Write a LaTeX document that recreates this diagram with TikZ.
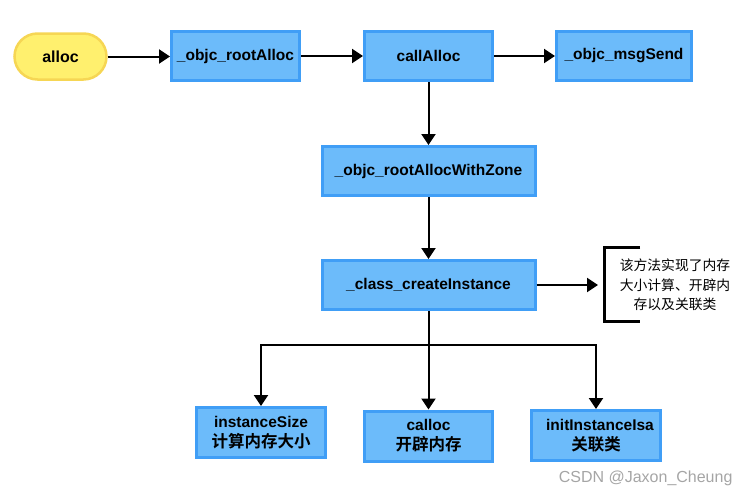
\documentclass[tikz,border=0pt]{standalone}
\usepackage{fontspec}
\setmainfont{Liberation Sans}
\newfontfamily\cjk{Noto Sans CJK SC}[BoldFont={Noto Sans CJK SC Bold}]
\usetikzlibrary{arrows.meta}
\definecolor{boxfill}{RGB}{108,187,250}
\definecolor{boxline}{RGB}{64,158,246}
\definecolor{yfill}{RGB}{255,240,110}
\definecolor{yline}{RGB}{246,214,84}
\definecolor{wm}{RGB}{165,165,165}
\tikzset{
  box/.style={draw=boxline, fill=boxfill, line width=3pt, inner sep=0pt,
    align=center, font=\fontsize{15.5}{19}\selectfont\bfseries},
  startbox/.style={draw=yline, fill=yfill, line width=2.5pt, rounded corners=23pt,
    inner sep=0pt, minimum width=92pt, minimum height=46pt,
    font=\fontsize{16}{19}\selectfont\bfseries},
  arr/.style={line width=2pt, -{Triangle[length=11pt,width=14pt]}},
  ln/.style={line width=2pt},
  zh/.style={font=\cjk\bfseries\fontsize{16.5}{19}\selectfont},
}
\newcommand\zhb[1]{{\cjk\bfseries\fontsize{16.5}{19}\selectfont #1}}
\begin{document}
\begin{tikzpicture}[x=1pt,y=-1pt]
\useasboundingbox (0,0) rectangle (751,498);
\node[startbox] (alloc) at (60.5,56.5) {alloc};
\node[box, minimum width=128pt, minimum height=49pt] (root) at (235.5,56) {\_objc\_rootAlloc};
\node[box, minimum width=128pt, minimum height=49pt] (call) at (428.5,56) {callAlloc};
\node[box, minimum width=135pt, minimum height=49pt] (msg) at (624,56) {\_objc\_msgSend};
\node[box, minimum width=213pt, minimum height=49pt] (zone) at (428.5,171) {\_objc\_rootAllocWithZone};
\node[box, minimum width=213pt, minimum height=49pt] (create) at (428.5,285) {\_class\_createInstance};
\node[box, minimum width=129pt, minimum height=50pt] (isize) at (261,432.5) {instanceSize\\[1pt]\zhb{计算内存大小}};
\node[box, minimum width=128pt, minimum height=50pt] (calloc) at (428.5,436) {calloc\\[1pt]\zhb{开辟内存}};
\node[box, minimum width=129pt, minimum height=50pt] (initisa) at (596,435.5) {\hspace*{8pt}initInstanceIsa\\[1pt]\zhb{关联类}};

\draw[arr] (alloc.east) -- (alloc.east -| root.west);
\draw[arr] (root.east) -- (call.west);
\draw[arr] (call.east) -- (msg.west);
\draw[arr] (call.south) -- (zone.north);
\draw[arr] (zone.south) -- (create.north);

\coordinate (tip) at (598,285);
\draw[arr] (create.east) -- (tip);
\coordinate (bt) at (640,247);
\coordinate (bb) at (640,321);
\draw[line width=3pt] (bt) -- (604,247) -- (604,321) -- (bb);
\node[align=center, font=\cjk\fontsize{13.8}{19.5}\selectfont] (note) at (675,285)
  {该方法实现了内存\\大小计算、开辟内\\存以及关联类};

\coordinate (j) at (428.5,345);
\draw[ln] (create.south) -- (j);
\draw[arr] (j) -| (isize.north);
\draw[arr] (j) -| (initisa.north);
\draw[arr] (j) -- (calloc.north);

\node[anchor=east, text=wm, font=\fontsize{16}{19}\selectfont] (wmk) at (736,478) {CSDN @Jaxon\_Cheung};
\end{tikzpicture}
\end{document}
